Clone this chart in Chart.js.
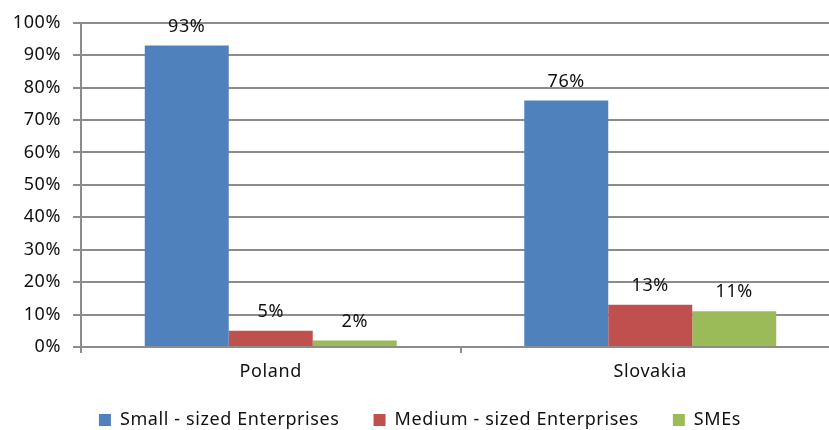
<!DOCTYPE html>
<html>
<head>
<meta charset="utf-8">
<script src="https://cdn.jsdelivr.net/npm/chart.js@4.4.1/dist/chart.umd.min.js"></script>
<style>
  html, body { margin: 0; padding: 0; background: #fff; }
  #wrap { width: 829px; height: 430px; overflow: hidden; position: relative; }
  #box { width: 840px; height: 439px; position: absolute; left: 0; top: 0; }
</style>
</head>
<body>
<div id="wrap"><div id="box"><canvas id="chart"></canvas></div></div>
<script>
// chart data
const countries = ["Poland", "Slovakia"];
const smallSized = [93, 76];
const mediumSized = [5, 13];
const smes = [2, 11];
const yTicks = [0, 10, 20, 30, 40, 50, 60, 70, 80, 90, 100];

const GRID = '#8c8c8c';
const FONT = "'Noto Sans', sans-serif";
const SPACING = '0.6px';

// the original font is a bit wider, add some letter spacing
const wideText = {
    id: 'wideText',
    beforeUpdate(chart) { chart.ctx.letterSpacing = SPACING; },
    beforeDraw(chart) { chart.ctx.letterSpacing = SPACING; }
};

// value labels above each bar
const barLabels = {
    id: 'barLabels',
    afterDatasetsDraw(chart) {
        const ctx = chart.ctx;
        ctx.save();
        ctx.font = "18px " + FONT;
        ctx.fillStyle = '#111';
        ctx.textAlign = 'center';
        ctx.textBaseline = 'middle';
        chart.data.datasets.forEach((ds, i) => {
            chart.getDatasetMeta(i).data.forEach((bar, j) => {
                ctx.fillText(ds.data[j] + '%', bar.x, bar.y - 19);
            });
        });
        ctx.restore();
    }
};

new Chart(document.getElementById('chart'), {
    type: 'bar',
    data: {
        labels: countries,
        datasets: [
            { label: 'Small - sized Enterprises', data: smallSized, backgroundColor: '#4f81bd' },
            { label: 'Medium - sized Enterprises', data: mediumSized, backgroundColor: '#c0504d' },
            { label: 'SMEs', data: smes, backgroundColor: '#9bbb59' }
        ]
    },
    options: {
        responsive: true,
        maintainAspectRatio: false,
        animation: false,
        layout: { padding: { top: 17, right: 0, left: 0, bottom: 0 } },
        datasets: { bar: { barPercentage: 1, categoryPercentage: 0.664 } },
        plugins: {
            legend: {
                position: 'bottom',
                labels: {
                    boxWidth: 12, boxHeight: 12, padding: 34,
                    color: '#111', font: { family: FONT, size: 18 }
                }
            },
            tooltip: { enabled: false }
        },
        scales: {
            y: {
                min: 0, max: 100,
                afterBuildTicks: s => { s.ticks = yTicks.map(v => ({ value: v })); },
                afterFit: s => { s.width = 81; },
                grid: { color: GRID, lineWidth: 2, tickLength: 8 },
                border: { color: GRID, width: 2 },
                ticks: {
                    padding: 12, color: '#111',
                    font: { family: FONT, size: 18 },
                    callback: v => v + '%'
                }
            },
            x: {
                afterFit: s => { s.height = 30; },
                grid: { offset: true, drawOnChartArea: false, color: GRID, lineWidth: 2, tickLength: 6 },
                border: { color: GRID, width: 2 },
                ticks: { padding: 8, color: '#111', font: { family: FONT, size: 18 } }
            }
        }
    },
    plugins: [wideText, barLabels]
});
</script>
</body>
</html>
